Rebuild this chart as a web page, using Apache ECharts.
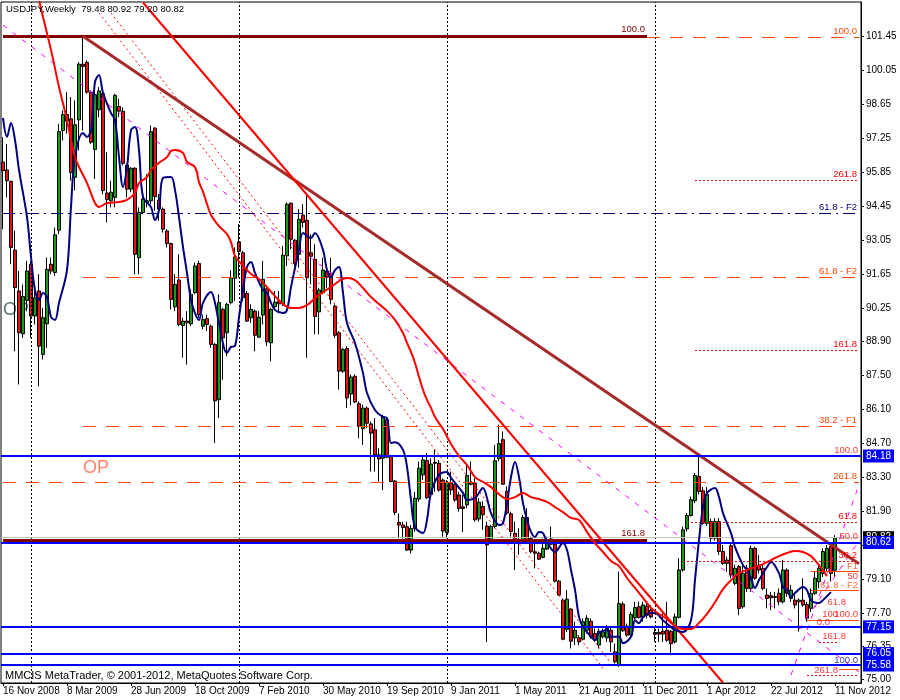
<!DOCTYPE html>
<html><head><meta charset="utf-8">
<script src="https://cdn.jsdelivr.net/npm/echarts@6/dist/echarts.min.js"></script>
<style>html,body{margin:0;padding:0;background:#fff}#c{width:900px;height:700px}</style>
</head><body><div id="c"></div>
<script>
// ---- weekly candles (USDJPY, 16 Nov 2008 .. 11 Nov 2012) ----
const opens = [96.27,95.95,95.48,92.65,90.97,89.21,90.58,92.07,89.94,90.97,
88.36,89.62,92.07,91.73,93.47,97.57,98.23,98.05,95.65,98.01,
100.30,100.37,99.15,96.79,98.43,99.09,95.00,94.68,94.82,98.56,
98.36,96.15,95.16,96.02,92.34,94.20,94.61,94.68,97.67,94.71,
94.34,93.44,92.92,90.32,91.42,89.55,89.73,89.62,90.90,92.10,
89.52,89.83,89.52,88.77,86.50,90.21,89.25,90.49,91.49,92.99,
92.54,90.87,89.87,90.14,89.07,89.98,91.06,88.84,90.32,90.55,
90.44,92.41,94.58,93.06,92.48,94.09,93.88,92.54,92.27,90.11,
90.90,91.79,91.70,90.35,89.25,87.67,88.60,86.73,87.46,86.33,
85.30,86.15,85.50,85.26,84.23,84.09,85.67,84.16,83.15,81.45,
81.34,81.27,80.31,81.20,82.41,83.40,83.99,82.60,83.92,83.88,
83.19,81.03,83.06,83.02,82.58,82.09,82.17,83.10,83.06,81.59,
82.10,81.30,80.75,81.28,84.07,84.85,82.72,81.80,81.00,80.59,
80.73,81.65,80.79,80.24,80.18,80.01,80.35,80.77,80.55,79.03,
78.25,77.05,77.88,76.70,76.70,76.64,77.01,77.38,76.88,76.40,
76.74,76.70,77.01,76.12,75.57,78.09,77.18,76.81,77.52,77.98,
77.56,78.00,77.84,76.92,76.92,76.97,77.01,76.97,76.53,77.54,
79.49,81.18,81.73,82.34,83.34,82.75,81.41,81.48,80.80,81.48,
80.25,79.90,80.49,78.94,79.63,77.98,79.56,78.73,80.38,79.69,
79.56,78.46,78.43,78.40,78.53,78.18,79.49,78.32,78.25,78.18,
78.25,78.07,77.91,78.53,79.01,79.35,79.56,80.45,79.48];
const closes = [95.92,95.51,92.76,91.11,89.25,90.74,91.79,89.94,90.69,88.70,
89.87,91.86,91.79,93.28,97.53,98.23,97.96,95.85,97.81,100.30,
100.21,99.15,97.09,99.05,99.20,95.10,94.73,95.03,99.02,98.37,
96.22,95.16,96.02,92.48,94.20,94.75,94.68,97.53,94.85,94.34,
93.51,92.92,90.62,91.24,89.59,89.73,89.66,90.83,92.00,90.00,
89.80,89.59,88.77,86.45,90.49,89.04,90.42,91.52,92.37,92.59,
90.69,89.73,90.21,89.15,89.89,91.45,88.88,90.21,90.51,90.44,
92.44,94.54,93.10,92.10,93.92,93.79,91.52,92.40,89.92,91.01,
91.83,91.54,90.62,89.15,87.67,88.56,86.57,87.43,86.40,85.40,
86.15,85.53,85.12,84.23,84.06,85.81,84.13,83.13,81.86,81.34,
81.24,80.31,81.20,82.44,83.68,84.02,82.47,83.85,83.88,82.78,
81.09,83.10,82.78,82.37,82.02,82.02,83.38,83.02,81.55,82.28,
81.76,80.52,81.28,83.98,84.69,83.02,81.83,81.07,80.59,80.73,
81.65,80.66,80.24,80.18,79.93,80.38,80.73,80.55,79.03,78.46,
76.64,78.29,76.56,77.01,76.53,77.36,77.50,76.74,76.60,76.97,
76.94,77.08,76.53,75.71,78.11,76.99,76.81,77.66,77.95,77.54,
78.05,77.63,77.56,76.85,76.85,76.86,76.60,76.46,77.56,79.49,
81.14,81.73,82.38,83.38,82.72,81.41,82.60,80.80,81.48,80.25,
79.76,79.76,79.28,79.56,77.91,79.35,78.73,80.38,79.15,79.49,
78.73,78.32,78.35,78.36,78.18,79.49,78.53,78.66,78.05,78.25,
78.05,77.50,78.53,79.15,79.56,80.25,80.38,79.35,80.82];
const highs = [97.30,97.02,95.51,93.45,91.79,91.24,92.21,92.21,90.97,91.66,
90.28,92.35,92.35,93.58,97.85,98.40,99.15,98.95,98.81,100.39,
101.45,100.46,99.22,99.22,99.36,99.22,96.68,95.51,99.08,98.88,
98.53,96.20,96.06,96.06,94.41,94.96,95.78,97.78,97.71,94.96,
94.41,93.51,92.96,91.66,92.48,89.87,90.14,91.04,92.14,92.21,
90.00,90.00,89.59,88.83,90.83,90.28,90.49,91.82,92.76,93.72,
92.62,90.97,90.42,90.21,90.14,92.21,91.17,90.28,90.97,90.97,
92.82,94.61,94.61,93.10,94.34,94.54,94.89,93.31,92.89,91.10,
92.34,92.07,92.34,90.42,89.32,88.63,88.70,87.53,87.53,86.43,
86.29,86.22,85.60,85.74,84.50,85.88,85.74,84.23,83.19,81.82,
81.48,81.48,81.34,82.71,83.95,84.23,84.30,84.09,84.43,84.02,
83.26,83.19,83.54,83.06,82.71,82.58,83.82,83.96,83.27,82.44,
82.31,81.48,81.34,84.64,85.47,85.19,82.93,81.89,81.48,81.21,
81.76,82.03,80.86,80.59,80.24,80.79,80.86,81.28,80.59,79.08,
78.32,78.66,77.91,77.36,76.81,77.50,77.63,77.50,77.08,77.08,
77.08,77.22,77.15,76.46,79.42,78.18,77.29,77.77,78.18,78.18,
78.18,78.11,78.04,77.15,77.08,77.70,78.18,77.01,77.70,79.97,
81.28,81.83,82.51,83.48,84.16,82.90,82.90,81.60,81.62,81.62,
80.52,80.04,80.56,79.70,79.70,79.70,79.70,80.49,80.45,80.10,
79.70,78.73,78.59,78.59,78.73,79.90,79.56,78.87,78.46,78.32,
79.15,78.18,78.73,79.42,79.70,80.38,80.52,80.52,80.92];
const lows = [93.51,94.82,92.07,88.49,87.12,89.04,90.14,89.04,89.59,87.05,
88.15,88.63,91.66,91.59,93.31,97.16,97.44,95.51,95.10,96.75,
97.57,99.09,97.02,95.58,98.12,94.95,93.79,94.41,94.41,98.12,
96.13,94.82,95.03,91.66,91.66,94.13,94.41,94.54,94.27,93.86,
93.37,92.76,90.21,90.14,89.52,88.22,87.94,89.52,90.83,89.87,
89.39,89.32,88.63,84.71,85.74,87.32,88.28,90.42,90.55,91.52,
90.55,89.70,89.66,88.49,89.04,89.59,88.70,88.08,90.21,90.07,
90.35,92.00,92.69,92.00,91.93,93.58,88.22,91.24,89.18,89.18,
90.83,91.10,90.42,89.04,86.91,87.60,86.15,86.26,86.36,84.91,
84.64,85.33,83.54,83.54,83.13,82.78,84.09,83.10,81.75,80.79,
80.79,80.27,80.17,81.06,82.30,83.19,82.41,82.44,82.71,82.71,
80.86,80.79,82.58,82.30,81.89,81.06,82.03,82.97,81.48,81.48,
81.14,76.53,80.66,81.21,83.96,82.99,81.76,80.86,79.49,80.11,
80.59,80.59,80.18,79.56,79.90,79.97,80.31,80.52,78.98,78.43,
76.60,76.94,76.26,76.39,76.39,76.60,76.88,76.67,76.53,76.26,
76.67,76.53,76.12,75.64,75.50,76.94,76.74,76.67,77.43,77.50,
77.36,77.50,77.50,76.53,76.53,76.53,76.53,75.98,76.46,77.50,
79.42,81.07,81.69,82.24,82.60,81.35,81.30,80.65,80.70,80.10,
79.70,79.42,79.15,78.87,77.63,77.90,78.59,78.59,79.08,79.35,
78.66,77.91,77.84,77.91,78.04,78.11,78.39,78.18,77.91,76.95,
77.98,77.36,77.76,78.46,78.73,79.20,79.42,79.01,79.20];

// ---- moving averages, [bar index, price] ----
const blueMA = [[0,98.09],[1,97.31],[2,97.88],[3,97.18],[4,95.95],[6,94.01],[7,92.38],[8,91.00],[9,90.60],[10,90.89],[11,90.72],[12,89.90],[13,89.78],[14,90.48],[16,91.83],[17,94.43],[18,96.48],[20,97.47],[21,97.31],[22,97.59],[23,99.57],[24,99.86],[25,99.12],[27,98.29],[28,98.00],[29,96.48],[30,95.25],[31,96.07],[32,97.59],[33,97.72],[34,96.77],[35,94.84],[37,94.42],[38,93.89],[39,94.30],[40,95.62],[42,95.66],[43,95.12],[44,94.01],[45,92.78],[46,91.71],[47,90.60],[48,90.06],[49,89.78],[50,90.48],[52,90.93],[53,90.48],[54,89.65],[56,88.42],[57,88.67],[58,88.71],[59,89.90],[60,91.01],[61,91.96],[62,92.16],[63,91.71],[65,91.01],[66,90.89],[67,90.48],[68,90.19],[70,90.06],[71,90.19],[72,91.13],[74,92.66],[75,93.36],[77,93.15],[78,93.36],[80,92.66],[81,91.83],[82,91.54],[83,91.83],[84,91.96],[85,90.89],[86,89.65],[88,88.83],[90,87.59],[91,86.77],[93,86.07],[95,85.78],[96,85.74],[97,84.71],[98,84.75],[100,84.43],[101,83.73],[102,82.37],[103,81.26],[105,81.01],[106,81.55],[107,82.66],[109,83.40],[111,83.52],[112,83.28],[115,82.66],[116,82.37],[118,82.45],[120,82.86],[121,82.45],[122,81.83],[124,81.34],[125,81.42],[126,82.24],[127,83.31],[128,83.93],[129,83.31],[130,82.24],[131,81.55],[132,81.05],[133,80.85],[134,81.05],[135,81.01],[136,80.64],[138,80.23],[140,80.60],[141,80.31],[142,79.49],[143,78.67],[144,77.56],[145,77.15],[147,76.74],[148,76.61],[149,76.90],[151,77.02],[152,76.74],[154,76.74],[155,76.48],[157,76.74],[158,77.42],[159,77.30],[160,77.55],[162,77.72],[163,77.72],[165,77.42],[167,77.14],[168,77.02],[170,76.94],[172,77.42],[173,79.08],[174,80.72],[175,82.08],[176,82.66],[178,82.86],[179,82.49],[180,81.83],[182,81.01],[183,80.43],[185,79.69],[186,79.49],[187,79.16],[188,78.75],[189,79.08],[191,79.61],[192,79.82],[194,79.36],[195,78.79],[196,78.66],[197,78.38],[198,78.54],[200,78.79],[201,78.66],[202,78.25],[204,78.13],[205,78.25],[207,78.58]];
const redMA = [[9,102.94],[10,102.24],[12,100.89],[14,99.36],[16,98.00],[17,97.18],[18,96.48],[19,96.07],[21,95.41],[23,94.59],[24,94.43],[26,94.59],[29,94.63],[31,94.72],[33,95.00],[34,95.41],[36,95.66],[37,95.95],[39,96.24],[41,96.48],[42,96.73],[43,96.77],[45,96.65],[46,96.28],[48,96.07],[49,95.45],[50,95.05],[51,94.55],[52,94.10],[54,93.64],[56,93.31],[57,92.98],[58,92.41],[60,92.00],[62,91.67],[64,91.46],[66,91.13],[68,90.76],[70,90.43],[72,90.27],[74,90.27],[76,90.39],[78,90.67],[80,90.93],[82,91.13],[84,91.38],[86,91.50],[88,91.42],[90,91.09],[92,90.72],[94,90.43],[96,90.15],[98,89.78],[100,89.24],[101,88.83],[102,88.46],[103,88.01],[104,87.44],[105,86.90],[106,86.49],[107,86.16],[108,85.78],[110,85.29],[112,84.67],[114,84.18],[116,83.81],[118,83.31],[120,83.11],[122,82.90],[124,82.61],[126,82.41],[128,82.49],[130,82.66],[132,82.49],[134,82.41],[136,82.29],[138,82.08],[140,81.87],[142,81.63],[144,81.55],[146,81.05],[148,80.60],[150,80.23],[152,79.86],[154,79.65],[156,79.16],[158,78.75],[160,78.34],[162,77.93],[164,77.68],[166,77.47],[168,77.18],[170,77.06],[172,77.06],[174,77.31],[176,77.68],[178,78.16],[180,78.70],[182,79.07],[184,79.36],[186,79.49],[188,79.61],[190,79.73],[192,79.90],[194,80.06],[196,80.19],[198,80.27],[200,80.23],[202,80.06],[204,79.69],[206,79.24]];

// ---- axis tick labels ----
const dateTicks = ['16 Nov 2008','8 Mar 2009','28 Jun 2009','18 Oct 2009','7 Feb 2010','30 May 2010','19 Sep 2010','9 Jan 2011','1 May 2011','21 Aug 2011','11 Dec 2011','1 Apr 2012','22 Jul 2012','11 Nov 2012'];
const priceTicks = [101.45,100.05,98.65,97.25,95.85,94.45,93.05,91.65,90.25,88.90,87.50,86.10,84.70,83.30,81.90,80.50,79.10,77.70,76.35,75.00];
const yearBreakBars = [7, 59, 111, 163];

// ---- drawn objects (price levels / trend lines) ----
const blueLevels = [84.18, 80.62, 77.15, 76.05, 75.58];
const bidPrice = 80.82;
const dashPrices = [101.40, 91.525, 85.394, 83.089];
const dashTexts = ['100.0', '61.8 - F2', '38.2 - F1', '261.8'];
const dashFrom = [0, 20, 20, 0];
const navyPrice = 94.158, navyText = '61.8 - F2';
const dotPrices = [95.515, 88.52, 81.444, 79.839];
const dotTexts = ['261.8', '161.8', '61.8', '38.2'];
const dotFrom = [173, 173, 172, 170];
const maroonPrices = [101.47, 80.73];
const maroonTexts = ['100.0', '161.8'];
const maroonEnd = 161;
const brownTrend = [[20, 101.45], [214, 79.75]];
const redTrend = [[35, 102.84], [180, 74.85]];
const channelA = [[24, 102.41], [150, 75.45]];
const channelB = [[27, 102.41], [152, 75.66]];
const magentaLines = [[[0, 101.91], [214, 75.29]], [[197, 75.17], [214, 82.99]], [[199, 77.05], [214, 80.69]]];
const shortOrangePrices = [79.45, 78.67, 77.43, 75.41];
const shortOrangeFrom = [202, 202, 201, 209];
const shortDotPrices = [76.52, 75.16];
const shortDotFrom = [204, 201];
const shortDotTo = [209, 214];
const sideTexts = ['100.0','50.0','- F1','50','61.8 - F2','61.8','100.0','100','0.0','161.8','100.0','261.8'];
const sidePrices = [84.43, 80.89, 79.65, 79.24, 78.87, 78.17, 77.67, 77.67, 77.34, 76.77, 75.78, 75.37];
const sideBars = [214, 214, 214, 214, 214, 211, 214, 209, 207, 211, 214, 209];
const sideColors = ['#FF0000','#FF0000','#FF4500','#FF0000','#FF4500','#FF0000','#FF0000','#FF0000','#FF0000','#FF0000','#000080','#FF0000'];

// ---- build ----
const FONT = 'Liberation Sans';
const MONTHS = ['Jan','Feb','Mar','Apr','May','Jun','Jul','Aug','Sep','Oct','Nov','Dec'];
const NCAT = 215;
const cats = [];
const t0 = Date.UTC(2008, 10, 16);
for (let k = 0; k < NCAT; k++) {
  const d = new Date(t0 + k * 7 * 86400000);
  cats.push(d.getUTCDate() + ' ' + MONTHS[d.getUTCMonth()] + ' ' + d.getUTCFullYear());
}
const tickSet = new Set(dateTicks);
const candleData = opens.map((o, i) => [o, closes[i], lows[i], highs[i]]);

const ORANGE = '#FF4500';
const ml = [];
function seg(a, pa, b, pb, ls, label) {
  ml.push([{ coord: [cats[a], pa], lineStyle: ls, label: label || { show: false } }, { coord: [cats[b], pb] }]);
}
function topLabel(text, color) {
  return { show: true, position: 'insideEndTop', formatter: text, color: color, fontSize: 9.5, fontFamily: FONT, distance: [2, 1], padding: 0 };
}
function boxLabel(text, bg) {
  return { show: true, position: 'end', formatter: text, color: '#fff', backgroundColor: bg, fontSize: 10, fontFamily: FONT, padding: [2, 3, 1, 3], distance: 2 };
}
yearBreakBars.forEach(b => ml.push({ xAxis: cats[b], lineStyle: { color: '#000', width: 1, type: [2, 2] }, label: { show: false } }));
ml.push({ yAxis: bidPrice, lineStyle: { color: '#C0C0C0', width: 1, type: 'solid' }, label: boxLabel(bidPrice.toFixed(2), '#000') });
magentaLines.forEach(l => seg(l[0][0], l[0][1], l[1][0], l[1][1], { color: '#FF00FF', width: 1, type: [5, 7] }));
[channelA, channelB].forEach(l => seg(l[0][0], l[0][1], l[1][0], l[1][1], { color: '#FF0000', width: 1, type: [2, 3] }));
dashPrices.forEach((p, k) => seg(dashFrom[k], p, NCAT - 1, p, { color: ORANGE, width: 1, type: [13, 10] }, topLabel(dashTexts[k], ORANGE)));
seg(0, navyPrice, NCAT - 1, navyPrice, { color: '#000080', width: 1, type: [12, 5, 2, 5] }, topLabel(navyText, '#000080'));
dotPrices.forEach((p, k) => seg(dotFrom[k], p, NCAT - 1, p, { color: '#FF0000', width: 1, type: [2, 2] }, topLabel(dotTexts[k], '#FF0000')));
shortOrangePrices.forEach((p, k) => seg(shortOrangeFrom[k], p, NCAT - 1, p, { color: ORANGE, width: 1, type: 'solid' }));
shortDotPrices.forEach((p, k) => seg(shortDotFrom[k], p, shortDotTo[k], p, { color: '#FF0000', width: 1, type: [2, 2] }));
maroonPrices.forEach((p, k) => seg(0, p, maroonEnd, p, { color: '#800000', width: 3, type: 'solid' }, topLabel(maroonTexts[k], '#800000')));
seg(brownTrend[0][0], brownTrend[0][1], brownTrend[1][0], brownTrend[1][1], { color: '#A52A2A', width: 3, type: 'solid' });
seg(redTrend[0][0], redTrend[0][1], redTrend[1][0], redTrend[1][1], { color: '#FF0000', width: 2, type: 'solid' });
blueLevels.forEach(p => ml.push({ yAxis: p, lineStyle: { color: '#0000FF', width: 2, type: 'solid' }, label: boxLabel(p.toFixed(2), '#0000FF') }));

const sideData = sideTexts.map((t, k) => ({ value: [cats[sideBars[k]], sidePrices[k]], label: { formatter: t, color: sideColors[k] } }));

const chart = echarts.init(document.getElementById('c'), null, { renderer: 'canvas' });
chart.setOption({
  animation: false,
  backgroundColor: '#fff',
  textStyle: { fontFamily: FONT },
  grid: { left: 1, top: 2, width: 860, height: 681, show: true, borderColor: '#000', borderWidth: 1, backgroundColor: '#fff' },
  xAxis: {
    type: 'category', data: cats, boundaryGap: true,
    axisLine: { show: true, lineStyle: { color: '#000' } },
    axisTick: { show: true, length: 3, alignWithLabel: true, interval: (i, v) => tickSet.has(v), lineStyle: { color: '#000' } },
    axisLabel: { interval: (i, v) => tickSet.has(v), align: 'left', color: '#000', fontSize: 10, fontFamily: FONT, margin: 3 },
    splitLine: { show: false }
  },
  yAxis: {
    type: 'value', position: 'right', min: 74.84, max: 102.86, scale: true,
    axisLine: { show: true, lineStyle: { color: '#000' } },
    axisTick: { show: true, length: 3, customValues: priceTicks, lineStyle: { color: '#000' } },
    axisLabel: { customValues: priceTicks, formatter: v => v.toFixed(2), color: '#000', fontSize: 10, fontFamily: FONT, margin: 5 },
    splitLine: { show: false }
  },
  graphic: [
    { type: 'text', left: 6, top: 4, z: 100, style: { text: 'USDJPY,Weekly  79.48 80.92 79.20 80.82', fill: '#000', font: '9.5px "Liberation Sans"' } },
    { type: 'text', left: 5, top: 670, z: 100, style: { text: 'MMCIS MetaTrader, \u00A9 2001-2012, MetaQuotes Software Corp.', fill: '#000', font: '11px "Liberation Sans"' } }
  ],
  series: [
    { type: 'scatter', z: 1, silent: true, symbolSize: 0,
      data: [{ value: [cats[0], 90.19], label: { formatter: 'OP', color: '#2F4F4F' } }],
      label: { show: true, position: 'right', distance: 0, fontSize: 18, fontFamily: FONT } },
    { type: 'candlestick', name: 'USDJPY', z: 2, silent: true, barWidth: 3, data: candleData,
      itemStyle: { color: '#1A9A1A', color0: '#EE1111', borderColor: '#000', borderColor0: '#000', borderColorDoji: '#000', borderWidth: 1 },
      markLine: { silent: true, symbol: ['none', 'none'], animation: false, z: 5, label: { show: false }, emphasis: { disabled: true }, data: ml } },
    { type: 'line', name: 'MA fast', z: 6, silent: true, data: blueMA, smooth: 0.35, showSymbol: false, lineStyle: { color: '#000080', width: 2 } },
    { type: 'line', name: 'MA slow', z: 6, silent: true, data: redMA, smooth: 0.35, showSymbol: false, lineStyle: { color: '#FF0000', width: 2 } },
    { type: 'scatter', z: 7, silent: true, symbolSize: 0,
      data: [{ value: [cats[20], 83.69], label: { formatter: 'OP', color: '#FF6347' } }],
      label: { show: true, position: 'right', distance: 0, fontSize: 18, fontFamily: FONT } },
    { type: 'scatter', z: 7, silent: true, symbolSize: 0, data: sideData,
      label: { show: true, position: 'left', distance: 1, fontSize: 9.5, fontFamily: FONT } }
  ]
});
</script>
</body></html>
